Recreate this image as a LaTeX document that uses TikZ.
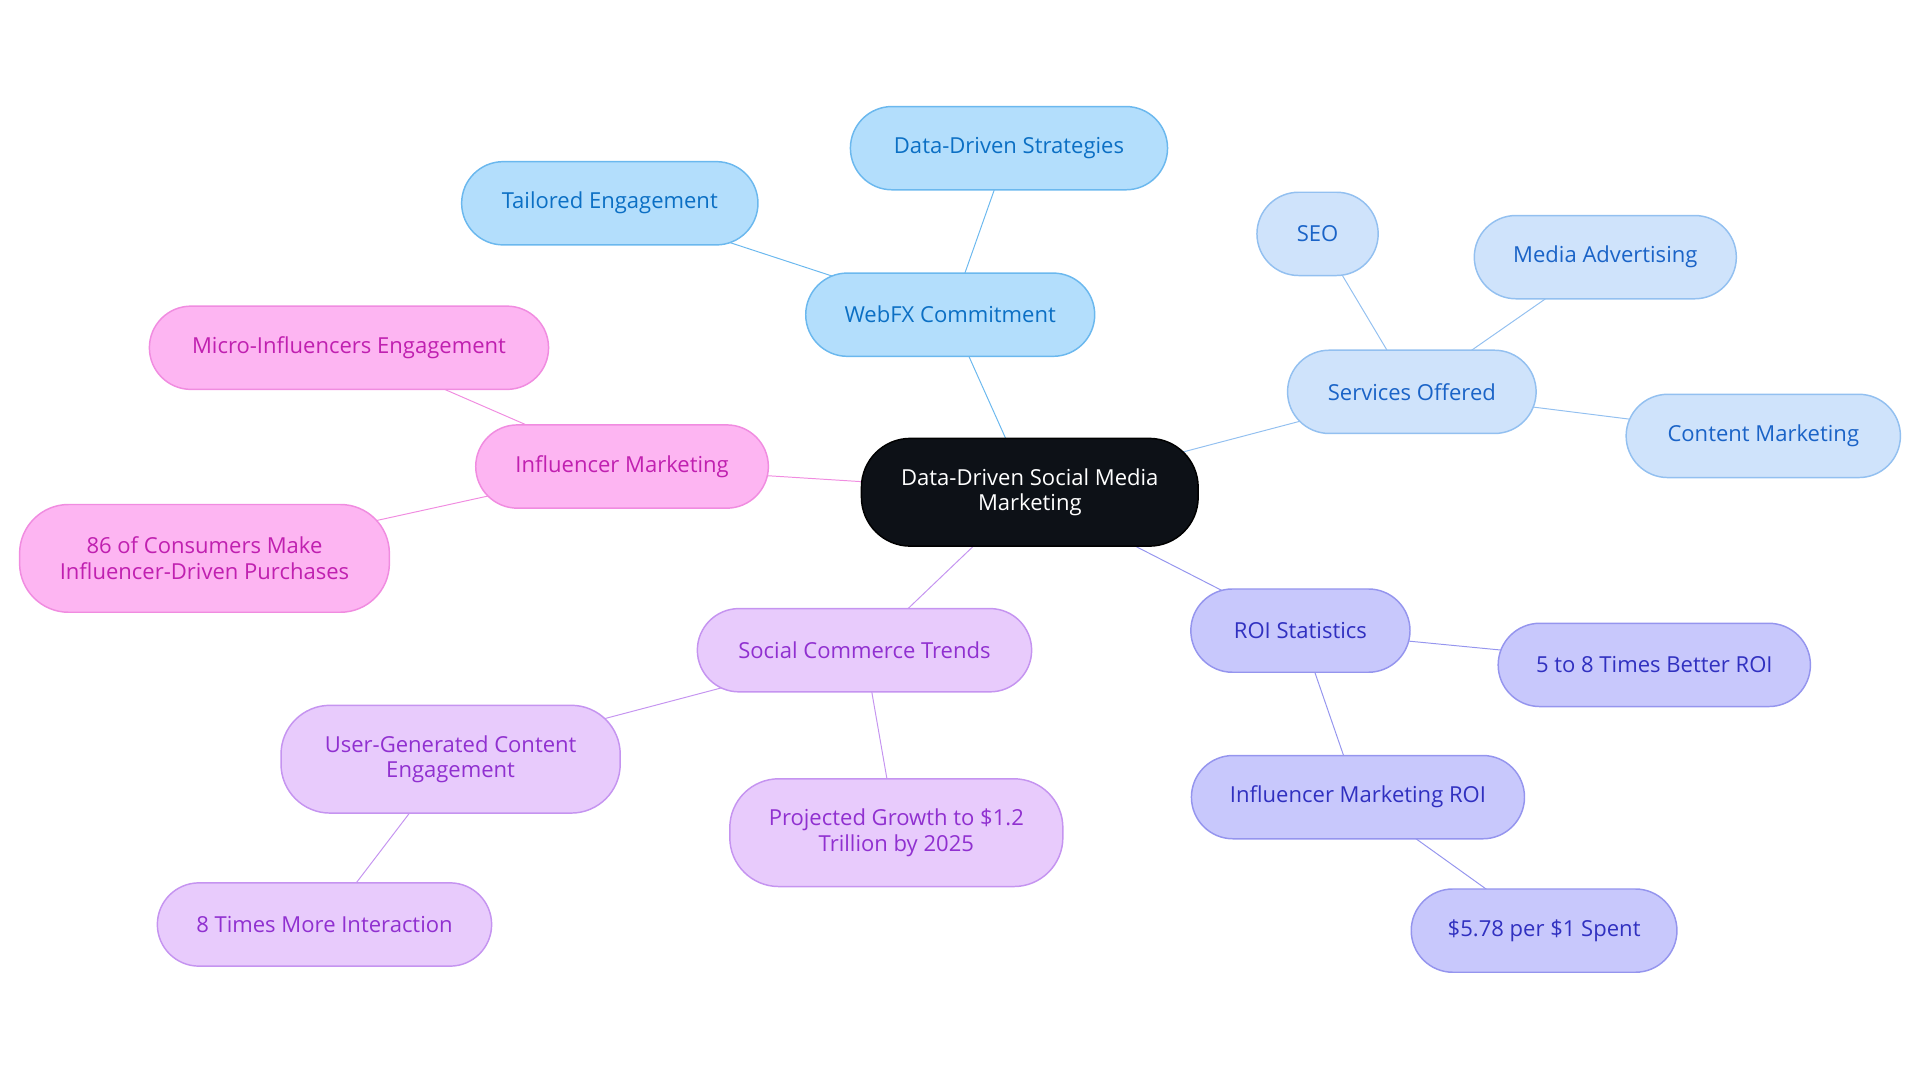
\documentclass[tikz,border=0pt]{standalone}
\usepackage{fontspec}
\setmainfont{Open Sans}
\usetikzlibrary{backgrounds}
\definecolor{bF}{HTML}{B3DEFC}\definecolor{bD}{HTML}{6BB8EE}\definecolor{bT}{HTML}{0B6FC4}
\definecolor{sF}{HTML}{CFE3FB}\definecolor{sD}{HTML}{93C0F0}\definecolor{sT}{HTML}{1A63C7}
\definecolor{rF}{HTML}{C8C8FC}\definecolor{rD}{HTML}{9595EE}\definecolor{rT}{HTML}{3030C0}
\definecolor{cF}{HTML}{E8CBFC}\definecolor{cD}{HTML}{C594F0}\definecolor{cT}{HTML}{9030D0}
\definecolor{iF}{HTML}{FDB5F2}\definecolor{iD}{HTML}{F08CE0}\definecolor{iT}{HTML}{C020B0}
\definecolor{mF}{HTML}{0D1117}
\begin{document}
\begin{tikzpicture}[x=0.5pt,y=-0.5pt,
 box/.style={rounded corners=17pt,minimum height=34pt,inner sep=0pt,align=center,font=\fontsize{9}{10.5}\selectfont,line width=0.6pt},
 B/.style={box,fill=bF,draw=bD,text=bT},
 S/.style={box,fill=sF,draw=sD,text=sT},
 R/.style={box,fill=rF,draw=rD,text=rT},
 C/.style={box,fill=cF,draw=cD,text=cT},
 I/.style={box,fill=iF,draw=iD,text=iT},
 tall/.style={minimum height=44pt,rounded corners=20pt},
 e/.style={line width=1.3pt}]
\useasboundingbox (0,0) rectangle (1568,884);
\node[box,tall,fill=mF,draw=black,text=white,minimum width=137.5pt] (m) at (841,402) {Data-Driven Social Media\\Marketing};
\node[B,minimum width=118pt] (w) at (776,257) {WebFX Commitment};
\node[B,minimum width=129.5pt] (w1) at (824,121) {Data-Driven Strategies};
\node[B,minimum width=121pt] (w2) at (498,166) {Tailored Engagement};
\node[S,minimum width=101.5pt] (s) at (1153,320) {Services Offered};
\node[S,minimum width=49.5pt] (s1) at (1076,191) {SEO};
\node[S,minimum width=107pt] (s2) at (1311,210) {Media Advertising};
\node[S,minimum width=112pt] (s3) at (1440,356) {Content Marketing};
\node[R,minimum width=89.5pt] (r) at (1062,515) {ROI Statistics};
\node[R,minimum width=127.5pt] (r1) at (1351,543) {5 to 8 Times Better ROI};
\node[R,minimum width=136pt] (r2) at (1109,651) {Influencer Marketing ROI};
\node[R,minimum width=108.5pt] (r3) at (1261,760) {\$5.78 per \$1 Spent};
\node[C,minimum width=136.5pt] (c) at (706,531) {Social Commerce Trends};
\node[C,tall,minimum width=138.5pt] (c1) at (368,620) {User-Generated Content\\Engagement};
\node[C,tall,minimum width=136pt] (c2) at (732,680) {Projected Growth to \$1.2\\Trillion by 2025};
\node[C,minimum width=136.5pt] (c3) at (265,755) {8 Times More Interaction};
\node[I,minimum width=119.5pt] (i) at (508,381) {Influencer Marketing};
\node[I,minimum width=163pt] (i1) at (285,284) {Micro-Influencers Engagement};
\node[I,tall,minimum width=151pt] (i2) at (167,456) {86 of Consumers Make\\Influencer-Driven Purchases};
\begin{scope}[on background layer,e]
\draw[bD] (m.center) -- (w.center) (w.center) -- (w1.center) (w.center) -- (w2.center);
\draw[sD] (m.center) -- (s.center) (s.center) -- (s1.center) (s.center) -- (s2.center) (s.center) -- (s3.center);
\draw[rD] (m.center) -- (r.center) (r.center) -- (r1.center) (r.center) -- (r2.center) (r2.center) -- (r3.center);
\draw[cD] (m.center) -- (c.center) (c.center) -- (c1.center) (c.center) -- (c2.center) (c1.center) -- (c3.center);
\draw[iD] (m.center) -- (i.center) (i.center) -- (i1.center) (i.center) -- (i2.center);
\end{scope}
\end{tikzpicture}
\end{document}
